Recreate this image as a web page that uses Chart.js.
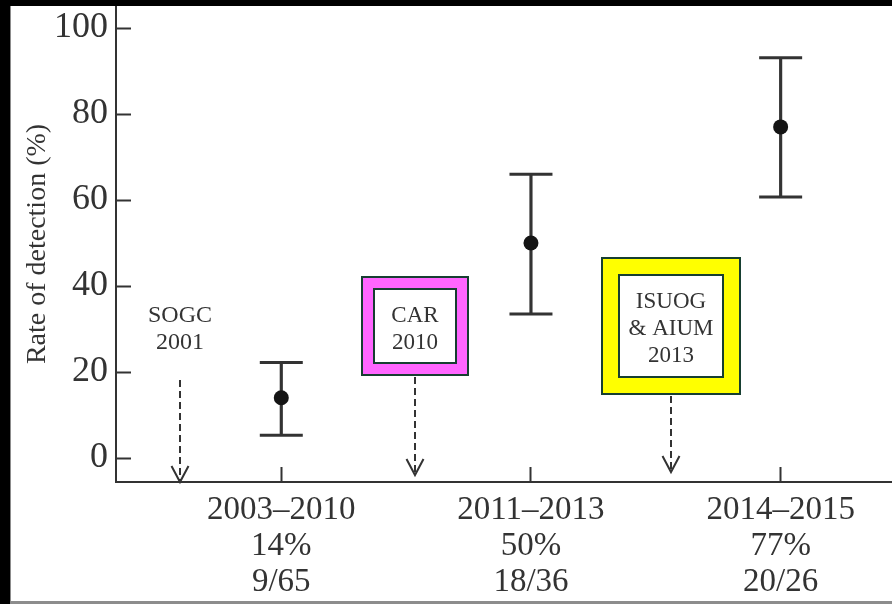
<!DOCTYPE html>
<html>
<head>
<meta charset="utf-8">
<script src="https://cdn.jsdelivr.net/npm/chart.js@4.4.0/dist/chart.umd.min.js"></script>
<style>
  html, body { margin: 0; padding: 0; background: #000; }
  #frame {
    position: absolute; left: 10px; top: 6px;
    width: 881px; height: 595px;
    background: #fff;
    border-left: 1px solid #8c8c8c;
    border-bottom: 3px solid #8c8c8c;
  }
  #frame canvas { display: block; }
</style>
</head>
<body>
<div id="frame"><canvas id="detectionChart" width="881" height="595"></canvas></div>
<script>
// Detection rate per period with 95% CI
const periods = ['2003–2010', '2011–2013', '2014–2015'];
const detectionRate = [14, 50, 77];
const ciLower = [5.3, 33.5, 60.7];
const ciUpper = [22.2, 66.0, 93.1];
const detectedOfTotal = ['9/65', '18/36', '20/26'];
const yTicks = [0, 20, 40, 60, 80, 100];

// Guideline publications marked along the time axis
const guidelineLabels = [['SOGC', '2001'], ['CAR', '2010'], ['ISUOG', '& AIUM', '2013']];
const guidelineX = [0.594, 1.535, 2.561];
const guidelineLevel = 30.7;

const FONT = "'Liberation Serif', 'Times New Roman', serif";
const INK = '#333333';

// plain label, magenta framed box, yellow framed box
const guidelineStyles = [
  { frame: 0, gap: 25, tipGap: 0, size: 24 },
  { frame: 12, inner: [82, 74], fill: '#ff66ff', tipGap: 7, size: 23 },
  { frame: 17, inner: [104, 102], fill: '#ffff00', tipGap: 10, size: 23 }
];

const guidelineMarks = {
  id: 'guidelineMarks',
  afterDatasetsDraw(chart) {
    const { ctx, chartArea, scales: { x, y } } = chart;
    const lh = 27;
    ctx.save();
    guidelineLabels.forEach((lines, i) => {
      const st = guidelineStyles[i];
      const cx = Math.round(x.getPixelForValue(guidelineX[i]));
      const cy = Math.round(y.getPixelForValue(guidelineLevel));
      let bottom;
      if (st.frame) {
        const [iw, ih] = st.inner;
        const ow = iw + 2 * st.frame, oh = ih + 2 * st.frame;
        ctx.lineWidth = 2;
        ctx.strokeStyle = '#173f31';
        ctx.fillStyle = st.fill;
        ctx.fillRect(cx - ow / 2, cy - oh / 2, ow, oh);
        ctx.strokeRect(cx - ow / 2, cy - oh / 2, ow, oh);
        ctx.fillStyle = '#fff';
        ctx.fillRect(cx - iw / 2, cy - ih / 2, iw, ih);
        ctx.strokeRect(cx - iw / 2, cy - ih / 2, iw, ih);
        bottom = cy + oh / 2;
      } else {
        bottom = cy + lines.length * lh / 2 + st.gap;
      }

      ctx.fillStyle = '#333';
      ctx.font = st.size + 'px ' + FONT;
      ctx.textAlign = 'center';
      ctx.textBaseline = 'middle';
      lines.forEach((t, k) => {
        ctx.fillText(t, cx, cy + 3 + (k - (lines.length - 1) / 2) * lh);
      });

      // dashed pointer down to the axis
      const tip = chartArea.bottom - st.tipGap;
      ctx.strokeStyle = INK;
      ctx.lineWidth = 2;
      ctx.setLineDash([7, 4]);
      ctx.beginPath();
      ctx.moveTo(cx, bottom + 2);
      ctx.lineTo(cx, tip - 2);
      ctx.stroke();
      ctx.setLineDash([]);
      ctx.beginPath();
      ctx.moveTo(cx - 8.5, tip - 16);
      ctx.lineTo(cx, tip);
      ctx.lineTo(cx + 8.5, tip - 16);
      ctx.stroke();
    });
    ctx.restore();
  }
};

const ratePoints = periods.map((p, i) => ({ x: i + 1, y: detectionRate[i] }));
const capPoints = periods.flatMap((p, i) => [
  { x: i + 1, y: ciLower[i] },
  { x: i + 1, y: ciUpper[i] }
]);
const ciBars = periods.map((p, i) => ({ x: i + 1, y: [ciLower[i], ciUpper[i]] }));

new Chart(document.getElementById('detectionChart'), {
  type: 'scatter',
  data: {
    datasets: [
      {
        type: 'scatter',
        label: 'Detection rate',
        data: ratePoints,
        pointRadius: 7.5,
        pointBackgroundColor: '#141414',
        pointBorderWidth: 0,
        order: 0
      },
      {
        type: 'scatter',
        label: 'CI limits',
        data: capPoints,
        pointStyle: 'line',
        pointRadius: 21.5,
        pointBorderColor: INK,
        pointBorderWidth: 3,
        order: 1
      },
      {
        type: 'bar',
        label: '95% CI',
        data: ciBars,
        barThickness: 2.5,
        backgroundColor: INK,
        order: 2
      }
    ]
  },
  options: {
    responsive: false,
    animation: false,
    layout: { padding: 0, autoPadding: false },
    plugins: {
      legend: { display: false },
      tooltip: { enabled: false }
    },
    scales: {
      x: {
        type: 'linear',
        min: 0.338,
        max: 3.446,
        offset: false,
        afterBuildTicks: (s) => { s.ticks = periods.map((p, i) => ({ value: i + 1 })); },
        ticks: {
          autoSkip: false,
          maxRotation: 0,
          padding: 25,
          color: INK,
          font: { family: FONT, size: 33, lineHeight: 1.1 },
          callback: (v) => {
            const i = Math.round(v) - 1;
            return [periods[i], detectionRate[i] + '%', detectedOfTotal[i]];
          }
        },
        grid: { drawOnChartArea: false, offset: false, tickLength: -15, tickWidth: 2, tickColor: INK },
        border: { color: INK, width: 2 },
        afterFit: (s) => { s.height = 119; s.paddingLeft = 0; s.paddingRight = 0; }
      },
      y: {
        type: 'linear',
        min: -5.58,
        max: 105.12,
        afterBuildTicks: (s) => { s.ticks = yTicks.map(v => ({ value: v })); },
        ticks: {
          padding: 23,
          color: INK,
          font: { family: FONT, size: 36 }
        },
        grid: { drawOnChartArea: false, tickLength: -15, tickWidth: 2, tickColor: INK },
        border: { color: INK, width: 2 },
        title: {
          display: true,
          text: 'Rate of detection (%)',
          color: INK,
          font: { family: FONT, size: 28 },
          padding: { top: 10, bottom: 0 }
        },
        afterFit: (s) => { s.width = 105; s.paddingTop = 0; s.paddingBottom = 0; }
      }
    }
  },
  plugins: [guidelineMarks]
});
</script>
</body>
</html>
